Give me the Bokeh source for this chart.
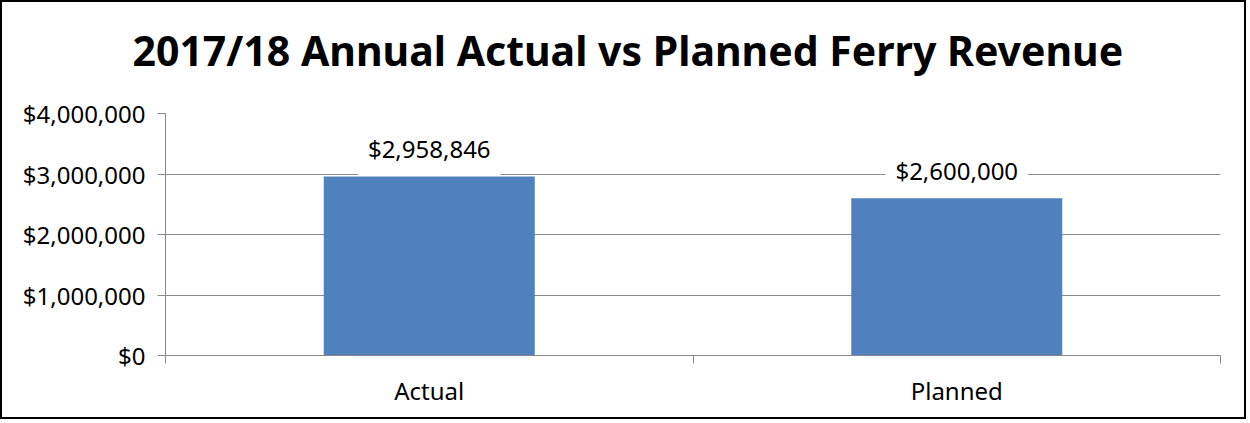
from bokeh.plotting import figure
from bokeh.models import ColumnDataSource, FixedTicker, NumeralTickFormatter, Range1d, Title
from bokeh.core.properties import value
from bokeh.embed import file_html
from bokeh.resources import INLINE

categories = ["Actual", "Planned"]
revenue = [2958846, 2600000]
revenue_labels = ["$2,958,846", "$2,600,000"]
y_ticks = [0, 1000000, 2000000, 3000000, 4000000]
title_text = "2017/18 Annual Actual vs Planned Ferry Revenue"

xpos = [i + 0.5 for i in range(len(categories))]
src = ColumnDataSource(dict(x=xpos, top=revenue, label=revenue_labels))

FONT = "Noto Sans"
GRAY = "#898989"
FS = "24px"

p = figure(width=1246, height=419, output_backend="svg", toolbar_location=None,
           x_range=Range1d(0, len(categories)), y_range=Range1d(0, 4000000),
           min_border_left=163, min_border_right=28, min_border_top=111, min_border_bottom=66)
p.styles = {"border": "2px solid black"}

p.title.text = title_text
p.title.align = "left"
p.title.vertical_align = "bottom"
p.title.offset = -33
p.title.text_font = FONT
p.title.text_font_size = "41px"
p.title.text_font_style = "bold"
p.title.text_color = "black"
p.title.standoff = 0

# spacer between title and plot area
p.add_layout(Title(text=" ", text_font_size="1px", standoff=33), "above")

p.outline_line_color = None
p.background_fill_color = "white"
p.border_fill_color = "white"

p.vbar(x="x", top="top", width=0.4, source=src, fill_color="#4F81BD", line_color=None)

p.text(x="x", y="top", text="label", source=src, text_align="center",
       text_baseline="middle", y_offset=-28, text_font=value(FONT), text_font_size=FS,
       text_color="black", background_fill_color="white", padding=10)

p.xgrid.grid_line_color = None
p.ygrid.grid_line_color = GRAY
p.ygrid.grid_line_width = 1
p.ygrid.ticker = FixedTicker(ticks=y_ticks)

p.yaxis.ticker = FixedTicker(ticks=y_ticks)
p.yaxis.formatter = NumeralTickFormatter(format="$0,0")
p.yaxis.axis_line_color = GRAY
p.yaxis.major_tick_line_color = GRAY
p.yaxis.major_tick_out = 8
p.yaxis.major_tick_in = 0
p.yaxis.minor_tick_line_color = None
p.yaxis.major_label_standoff = 12
p.yaxis.major_label_text_font = FONT
p.yaxis.major_label_text_font_size = FS
p.yaxis.major_label_text_color = "black"

p.xaxis.ticker = FixedTicker(ticks=xpos, minor_ticks=list(range(len(categories) + 1)))
p.xaxis.major_label_overrides = {x: c for x, c in zip(xpos, categories)}
p.xaxis.axis_line_color = GRAY
p.xaxis.major_tick_line_color = None
p.xaxis.major_tick_out = 0
p.xaxis.minor_tick_line_color = GRAY
p.xaxis.minor_tick_out = 8
p.xaxis.minor_tick_in = 0
p.xaxis.major_label_standoff = 10
p.xaxis.major_label_text_font = FONT
p.xaxis.major_label_text_font_size = FS
p.xaxis.major_label_text_color = "black"

open("out.html", "w").write(file_html(p, INLINE))
